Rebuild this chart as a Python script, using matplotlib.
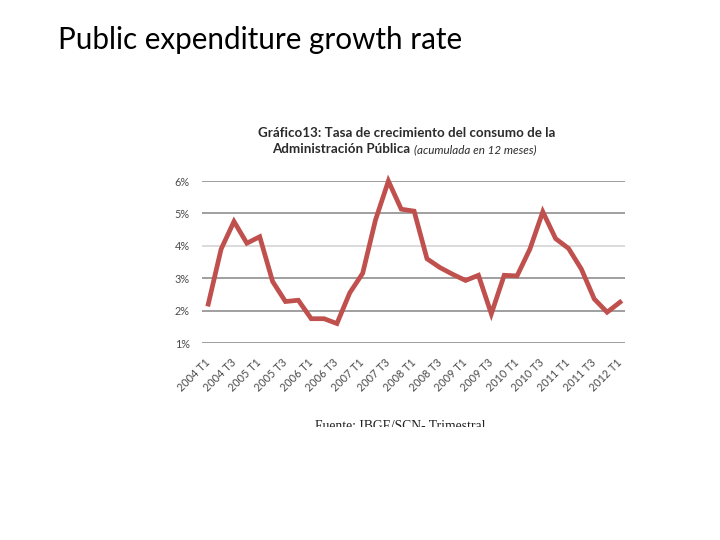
import matplotlib
matplotlib.use("Agg")
import matplotlib.pyplot as plt
from matplotlib.patches import Rectangle
from matplotlib.transforms import ScaledTranslation

# quarterly growth of public administration consumption (% , 12-month accumulated)
quarters = [
    "2004 T1", "2004 T2", "2004 T3", "2004 T4",
    "2005 T1", "2005 T2", "2005 T3", "2005 T4",
    "2006 T1", "2006 T2", "2006 T3", "2006 T4",
    "2007 T1", "2007 T2", "2007 T3", "2007 T4",
    "2008 T1", "2008 T2", "2008 T3", "2008 T4",
    "2009 T1", "2009 T2", "2009 T3", "2009 T4",
    "2010 T1", "2010 T2", "2010 T3", "2010 T4",
    "2011 T1", "2011 T2", "2011 T3", "2011 T4",
    "2012 T1",
]
growth = [
    2.20, 3.90, 4.75, 4.08, 4.28, 2.90, 2.28, 2.32,
    1.75, 1.75, 1.60, 2.55, 3.15, 4.80, 6.00, 5.13,
    5.07, 3.60, 3.33, 3.12, 2.93, 3.09, 1.90, 3.09,
    3.07, 3.90, 5.05, 4.22, 3.92, 3.28, 2.36, 1.95,
    2.26,
]
yticks = [1, 2, 3, 4, 5, 6]

fig = plt.figure(figsize=(7.2, 5.4), dpi=100)

# slide title
fig.text(58 / 720, 1 - 40 / 540, "Public expenditure growth rate",
         family="Lato", fontsize=21.3, color="black", ha="left", va="center")

# chart title (two lines, second one mixes bold and italic)
fig.text(407 / 720, 1 - 133 / 540, "Gráfico13: Tasa de crecimiento del consumo de la",
         family="Lato", weight="bold", fontsize=9.6, color="#2b2b2b",
         ha="center", va="center")
fig.text(410 / 720, 1 - 149 / 540, "Administración Pública",
         family="Lato", weight="bold", fontsize=9.6, color="#2b2b2b",
         ha="right", va="center")
fig.text(414 / 720, 1 - 150 / 540, "(acumulada en 12 meses)",
         family="Lato", style="italic", fontsize=8.4, color="#2b2b2b",
         ha="left", va="center")

ax = fig.add_axes([201.7 / 720, 1 - 343 / 540, 423.3 / 720, 162 / 540])
x = list(range(len(quarters)))
ax.plot(x, growth, color="#C0504D", lw=3.4, solid_joinstyle="miter",
        clip_on=False, zorder=3)

ax.set_xlim(-0.51, len(quarters) - 1 + 0.39)
ax.set_ylim(1, 6)
ax.set_yticks(yticks)
ax.set_yticklabels([f"{v}%" for v in yticks])
for v in yticks:
    ax.axhline(v, color="#d4d4d4" if v == 4 else "#8f8f8f", lw=1.2, zorder=1)

ax.set_xticks(x[::2])
ax.set_xticklabels(quarters[::2], rotation=45, ha="right", va="center",
                   rotation_mode="anchor")
offset = ScaledTranslation(5 / 100, -2 / 100, fig.dpi_scale_trans)
for lbl in ax.get_xticklabels():
    lbl.set_transform(lbl.get_transform() + offset)

ax.tick_params(axis="both", length=0, labelsize=7.8, labelcolor="#4a4a4a")
ax.tick_params(axis="y", pad=8.5)
ax.tick_params(axis="x", pad=13)
for lbl in ax.get_xticklabels() + ax.get_yticklabels():
    lbl.set_family("Lato")
for s in ax.spines.values():
    s.set_visible(False)

# source note, cut off at the bottom like the pasted image
fig.text(400 / 720, 1 - 429.5 / 540, "Fuente: IBGE/SCN- Trimestral",
         family="Liberation Serif", fontsize=9.8, color="#222222",
         ha="center", va="baseline", zorder=2)
fig.add_artist(Rectangle((280 / 720, 0), 260 / 720, 1 - 427 / 540,
                         transform=fig.transFigure, facecolor="white",
                         edgecolor="none", zorder=10))

fig.savefig("out.png", dpi=100, facecolor="white")
